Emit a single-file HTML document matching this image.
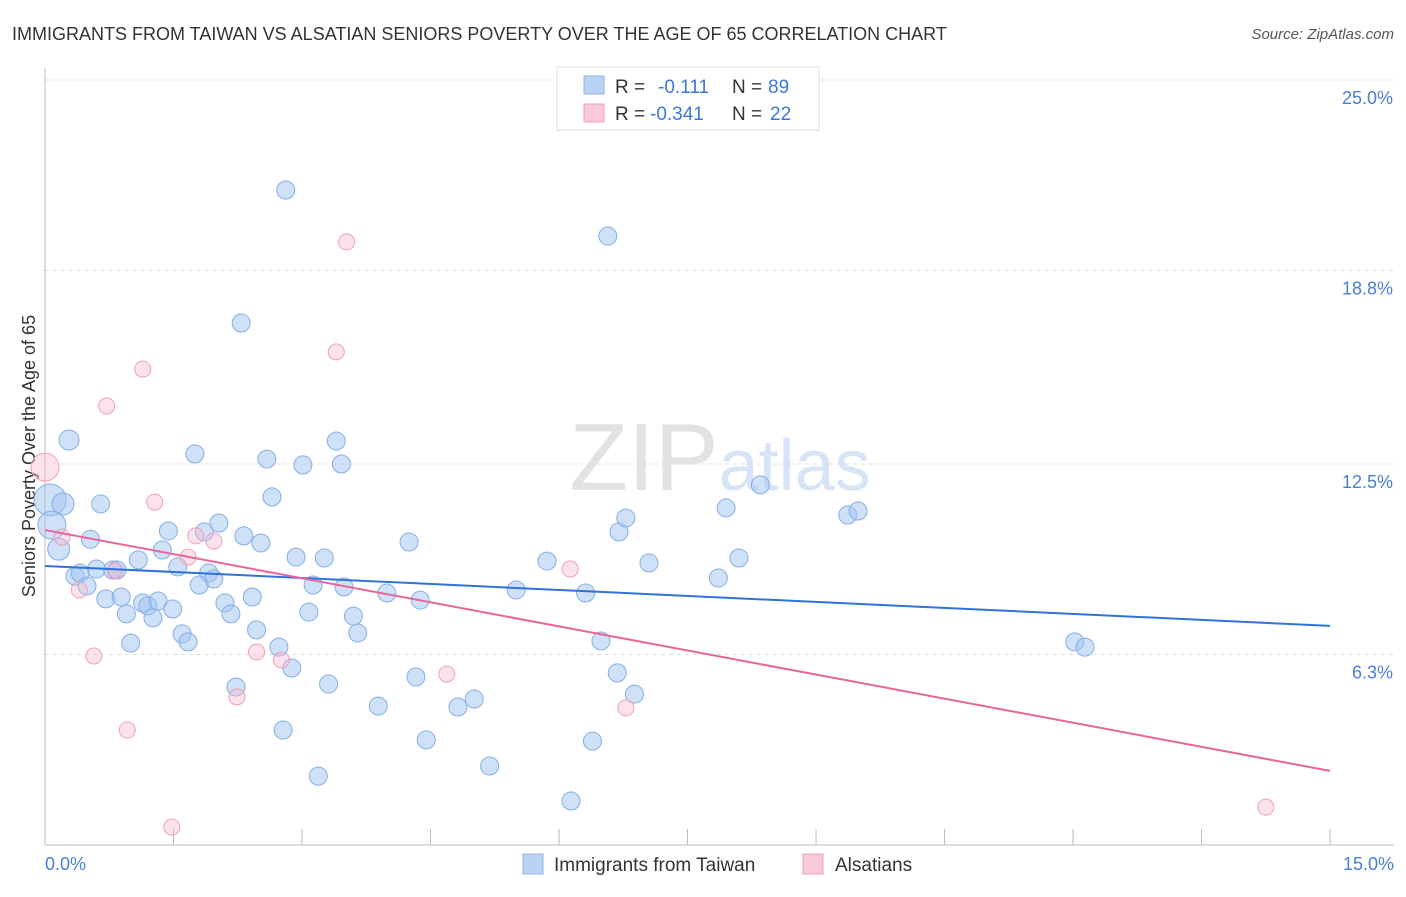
<!DOCTYPE html>
<html><head><meta charset="utf-8"><style>
body{margin:0;background:#fff;font-family:"Liberation Sans",sans-serif;}
svg text{font-family:"Liberation Sans",sans-serif;}
</style></head><body>
<svg id="chart" width="1406" height="892" viewBox="0 0 1406 892" xmlns="http://www.w3.org/2000/svg">
<text x="12" y="40" font-size="18" fill="#333">IMMIGRANTS FROM TAIWAN VS ALSATIAN SENIORS POVERTY OVER THE AGE OF 65 CORRELATION CHART</text>
<text x="1394" y="39" font-size="15" fill="#555" font-style="italic" text-anchor="end">Source: ZipAtlas.com</text>
<text x="720" y="490" font-size="96" fill="#e6e6e6" text-anchor="middle" font-family="Liberation Serif"><tspan fill="#e2e2e2">ZIP</tspan><tspan fill="#d6e4f5" font-family="Liberation Sans" font-size="72">atlas</tspan></text>
<g id="grid"></g>
<line x1="45" y1="68" x2="45" y2="845" stroke="#bbb"/>
<line x1="45" y1="845" x2="1394" y2="845" stroke="#bbb"/>
<g id="xticks"></g>
<text x="35" y="456" font-size="18" fill="#333" text-anchor="middle" transform="rotate(-90 35 456)">Seniors Poverty Over the Age of 65</text>
<text x="45" y="870" font-size="18" fill="#4a7fd4">0.0%</text>
<text x="1394" y="870" font-size="18" fill="#4a7fd4" text-anchor="end">15.0%</text>
<g id="pts"></g>
<g id="lines"></g>
<g>
<rect x="557" y="67" width="262" height="63" fill="#fff" stroke="#ddd"/>
<rect x="584" y="76" width="20" height="18" fill="#b9d3f5" stroke="#8fb3e8"/>
<text x="615" y="93" font-size="19" fill="#333">R = </text><text x="658" y="93" font-size="19" fill="#3b78d8">-0.111</text>
<text x="732" y="93" font-size="19" fill="#333">N = </text><text x="768" y="93" font-size="19" fill="#3b78d8">89</text>
<rect x="584" y="104" width="20" height="18" fill="#f9c9d7" stroke="#f0a0b8"/>
<text x="615" y="120" font-size="19" fill="#333">R = </text><text x="650" y="120" font-size="19" fill="#3b78d8">-0.341</text>
<text x="732" y="120" font-size="19" fill="#333">N = </text><text x="770" y="120" font-size="19" fill="#3b78d8">22</text>
</g>
<g>
<rect x="523" y="854" width="20" height="20" fill="#b9d3f5" stroke="#8fb3e8"/>
<text x="554" y="871" font-size="19" fill="#333">Immigrants from Taiwan</text>
<rect x="803" y="854" width="20" height="20" fill="#f9c9d7" stroke="#f0a0b8"/>
<text x="835" y="871" font-size="19" fill="#333">Alsatians</text>
</g>
</svg>
<script>
const yTicks=[25.0,18.8,12.5,6.3];
const yTickLabels=["25.0%","18.8%","12.5%","6.3%"];
const xTicks=[0,1.5,3,4.5,6,7.5,9,10.5,12,13.5,15];
const blueX=[2.81,6.57,2.29,0.28,1.75,2.59,3.01,3.40,3.46,0.06,0.21,0.65,2.65,0.08,0.16,0.53,1.44,1.86,2.03,2.32,2.52,1.37,1.09,0.60,0.35,0.41,0.49,0.79,0.84,1.55,1.91,1.97,1.80,2.93,3.26,3.13,3.49,3.99,4.38,4.25,0.71,0.89,1.14,1.20,1.32,0.95,1.26,1.49,2.10,2.42,2.17,3.08,3.60,1.00,1.60,1.67,2.47,3.65,2.73,2.88,2.23,3.31,4.33,3.89,4.82,5.01,2.78,4.45,3.19,5.19,6.14,6.39,5.50,5.86,6.31,6.49,6.68,6.88,6.70,6.78,7.05,7.86,8.10,7.95,8.35,9.37,9.49,12.02,12.14];
const blueY=[21.42,19.92,17.09,13.28,12.83,12.66,12.47,13.25,12.50,11.33,11.20,11.20,11.43,10.51,9.73,10.05,10.32,10.29,10.58,10.16,9.93,9.70,9.38,9.08,8.85,8.95,8.53,9.05,9.05,9.15,8.95,8.76,8.56,9.47,9.44,8.56,8.50,8.30,8.07,9.96,8.11,8.17,7.98,7.88,8.04,7.62,7.49,7.78,7.98,8.17,7.62,7.68,7.55,6.67,6.97,6.71,7.10,7.00,6.54,5.86,5.24,5.34,5.57,4.62,4.59,4.85,3.84,3.52,2.34,2.67,1.53,3.48,8.40,9.34,8.30,6.74,5.70,5.01,10.29,10.74,9.28,8.79,9.44,11.07,11.82,10.84,10.97,6.71,6.54];
const blueSize=[9,9,9,10,9,9,9,9,9,16,11,9,9,14,11,9,9,9,9,9,9,9,9,9,9,9,9,9,9,9,9,9,9,9,9,9,9,9,9,9,9,9,9,9,9,9,9,9,9,9,9,9,9,9,9,9,9,9,9,9,9,9,9,9,9,9,9,9,9,9,9,9,9,9,9,9,9,9,9,9,9,9,9,9,9,9,9,9,9];
const pinkX=[3.52,3.40,1.14,0.72,0.0,1.28,0.20,1.76,1.97,1.67,0.82,0.40,6.13,0.57,2.47,2.76,4.69,2.24,6.78,0.96,1.48,14.25];
const pinkY=[19.73,16.15,15.59,14.39,12.40,11.26,10.12,10.16,9.99,9.47,9.02,8.40,9.08,6.25,6.38,6.12,5.66,4.92,4.56,3.84,0.68,1.33];
const pinkSize=[8,8,8,8,14,8,8,8,8,8,8,8,8,8,8,8,8,8,8,8,8,8];
const blueTrend=[9.18,7.23];
const pinkTrend=[10.35,2.51];
const X=v=>45+v*85.67, Y=v=>80+(25-v)*30.72;
const NS="http://www.w3.org/2000/svg";
function mk(t,a,p){const e=document.createElementNS(NS,t);for(const k in a)e.setAttribute(k,a[k]);p.appendChild(e);return e;}
const grid=document.getElementById('grid');
yTicks.forEach((v,i)=>{
 const l=mk('line',{x1:45,x2:1394,y1:Y(v),y2:Y(v),stroke:'#ddd','stroke-dasharray':'4,4'},grid);
 
 
 const t=mk('text',{x:1393,y:Y(v)+24,'font-size':18,fill:'#4a7fd4','text-anchor':'end'},grid);
 t.textContent=yTickLabels[i];
 
 
});
const xt=document.getElementById('xticks');
xTicks.forEach(v=>{
 const l=mk('line',{x1:X(v),x2:X(v),y1:829,y2:845,stroke:'#bbb'},xt);
 
 
});
const pts=document.getElementById('pts');
blueX.forEach((v,i)=>{
 const c=mk('circle',{cx:X(v),cy:Y(blueY[i]),r:blueSize[i],fill:'rgba(160,195,240,0.5)',stroke:'#86aee6','stroke-width':1},pts);
 
 
});
pinkX.forEach((v,i)=>{
 const c=mk('circle',{cx:X(v),cy:Y(pinkY[i]),r:pinkSize[i],fill:'rgba(248,185,205,0.4)',stroke:'#f0a0b8','stroke-width':1},pts);
 
 
});
const ln=document.getElementById('lines');
const b=mk('line',{x1:X(0),y1:Y(blueTrend[0]),x2:X(15),y2:Y(blueTrend[1]),stroke:'#2f72d8','stroke-width':2},ln);


const p=mk('line',{x1:X(0),y1:Y(pinkTrend[0]),x2:X(15),y2:Y(pinkTrend[1]),stroke:'#e8659a','stroke-width':2},ln);


</script>
</body></html>
